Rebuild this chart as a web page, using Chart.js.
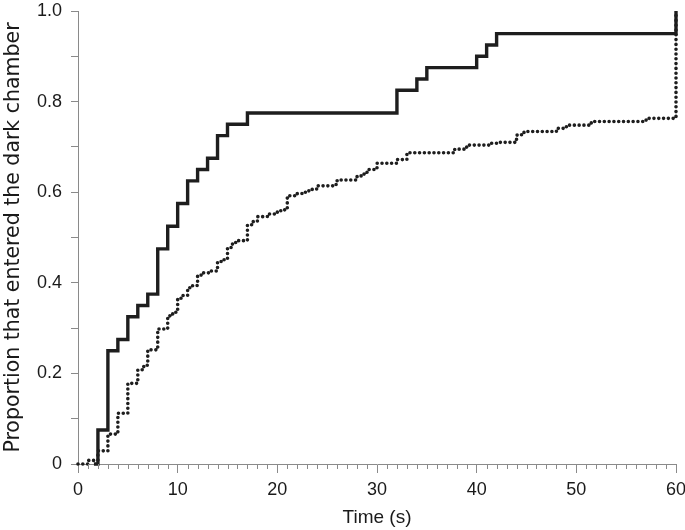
<!DOCTYPE html>
<html>
<head>
<meta charset="utf-8">
<script src="https://cdn.jsdelivr.net/npm/chart.js@4.4.1/dist/chart.umd.min.js"></script>
<style>
  html, body { margin: 0; padding: 0; background: #fff; }
  #wrap { width: 685px; height: 530px; }
</style>
</head>
<body>
<div id="wrap"><canvas id="km" width="685" height="530"></canvas></div>
<script>
// Step curves: each point is (time, proportion) where the new level starts
const solidTimes = [0, 1.6, 2, 3, 4, 5, 6, 7, 8, 9, 10, 11, 12, 13, 14, 15, 17, 32, 34, 35, 40, 41, 42, 60, 60];
const solidProps = [null, 0, 0.075, 0.25, 0.275, 0.325, 0.35, 0.375, 0.475, 0.525, 0.575, 0.625, 0.65, 0.675, 0.725, 0.75, 0.775, 0.825, 0.85, 0.875, 0.9, 0.925, 0.95, 0.95, 1.0];

const dottedTimes = [0, 1, 2, 3, 4, 5, 6, 6.6, 7, 8, 9, 9.5, 10, 10.5, 11, 11.5, 12, 12.6, 13.3, 14, 14.5, 15, 15.5, 16, 17, 17.5, 18, 19, 20, 20.5, 21, 22, 22.5, 23, 23.5, 24, 25.8, 26, 28, 28.5, 29, 30, 32, 33, 37.8, 39, 41.5, 42, 44, 44.5, 45, 48, 49, 51.5, 57, 60];
const dottedProps = [0, 0.008, 0.029, 0.066, 0.112, 0.178, 0.208, 0.218, 0.252, 0.298, 0.327, 0.335, 0.366, 0.372, 0.389, 0.394, 0.417, 0.422, 0.426, 0.447, 0.451, 0.478, 0.489, 0.493, 0.528, 0.535, 0.546, 0.552, 0.559, 0.561, 0.592, 0.597, 0.6, 0.603, 0.607, 0.614, 0.617, 0.627, 0.636, 0.64, 0.65, 0.664, 0.672, 0.687, 0.695, 0.704, 0.708, 0.71, 0.726, 0.732, 0.734, 0.741, 0.748, 0.756, 0.763, 1.0];

const xTickLabels = [0, 10, 20, 30, 40, 50, 60];
const yTickLabels = [0, 0.2, 0.4, 0.6, 0.8, 1.0];

const toPoints = (xs, ys) => xs.map((x, i) => ({ x, y: ys[i] })).filter(p => p.y !== null);

const AXIS_COLOR = '#8a8a8a';
const TEXT_COLOR = '#1a1a1a';
const FONT = { family: 'Liberation Sans, Arial, sans-serif', size: 18 };

// minor ticks on the time axis (every second), shorter than the labelled ones
const minorTicks = {
    id: 'minorTicks',
    afterDraw(chart) {
        const xs = chart.scales.x;
        const ctx = chart.ctx;
        ctx.save();
        ctx.strokeStyle = AXIS_COLOR;
        ctx.lineWidth = 1;
        for (let t = 0; t <= 60; t++) {
            if (xTickLabels.includes(t)) continue;
            const px = Math.round(xs.getPixelForValue(t)) + 0.5;
            ctx.beginPath();
            ctx.moveTo(px, xs.top);
            ctx.lineTo(px, xs.top + 5);
            ctx.stroke();
        }
        ctx.restore();
    }
};

new Chart(document.getElementById('km'), {
    type: 'line',
    data: {
        datasets: [
            {
                data: toPoints(dottedTimes, dottedProps),
                borderColor: '#1e1e1e',
                borderWidth: 3.6,
                borderDash: [0, 4.8],
                borderCapStyle: 'round',
                stepped: 'before',
                pointRadius: 0,
                fill: false,
                clip: false
            },
            {
                data: toPoints(solidTimes, solidProps),
                borderColor: '#1e1e1e',
                borderWidth: 3.4,
                borderCapStyle: 'butt',
                borderJoinStyle: 'miter',
                stepped: 'before',
                pointRadius: 0,
                fill: false,
                clip: false
            }
        ]
    },
    options: {
        responsive: false,
        animation: false,
        layout: { padding: { top: 11, right: 9, left: 0, bottom: 0 } },
        plugins: { legend: { display: false }, tooltip: { enabled: false } },
        scales: {
            x: {
                type: 'linear',
                min: 0,
                max: 60,
                afterFit: s => { s.height = 66; s.paddingLeft = 0; s.paddingRight = 0; },
                border: { color: AXIS_COLOR, width: 1 },
                grid: {
                    drawOnChartArea: false,
                    tickLength: 9,
                    tickColor: c => xTickLabels.includes(c.tick.value) ? AXIS_COLOR : 'rgba(0,0,0,0)'
                },
                ticks: {
                    stepSize: 1,
                    autoSkip: false,
                    maxRotation: 0,
                    padding: 6,
                    color: TEXT_COLOR,
                    font: FONT,
                    callback: v => xTickLabels.includes(v) ? String(v) : ''
                },
                title: {
                    display: true,
                    text: 'Time (s)',
                    color: TEXT_COLOR,
                    font: { family: FONT.family, size: 19 },
                    padding: { top: 0, bottom: 1 }
                }
            },
            y: {
                type: 'linear',
                min: 0,
                max: 1,
                afterFit: s => { s.width = 78; s.paddingTop = 0; s.paddingBottom = 0; },
                border: { color: AXIS_COLOR, width: 1 },
                grid: { drawOnChartArea: false, tickLength: 7, tickColor: AXIS_COLOR },
                ticks: {
                    stepSize: 0.1,
                    autoSkip: false,
                    padding: 9,
                    color: TEXT_COLOR,
                    font: FONT,
                    callback: v => {
                        const r = Math.round(v * 10) / 10;
                        if (!yTickLabels.some(l => Math.abs(l - r) < 1e-6)) return '';
                        return r === 0 ? '0' : r.toFixed(1);
                    }
                },
                title: {
                    display: true,
                    text: 'Proportion that entered the dark chamber',
                    color: TEXT_COLOR,
                    font: { family: 'DejaVu Sans, sans-serif', size: 20.5 },
                    padding: { top: 1, bottom: 0 }
                }
            }
        }
    },
    plugins: [minorTicks]
});
</script>
</body>
</html>
